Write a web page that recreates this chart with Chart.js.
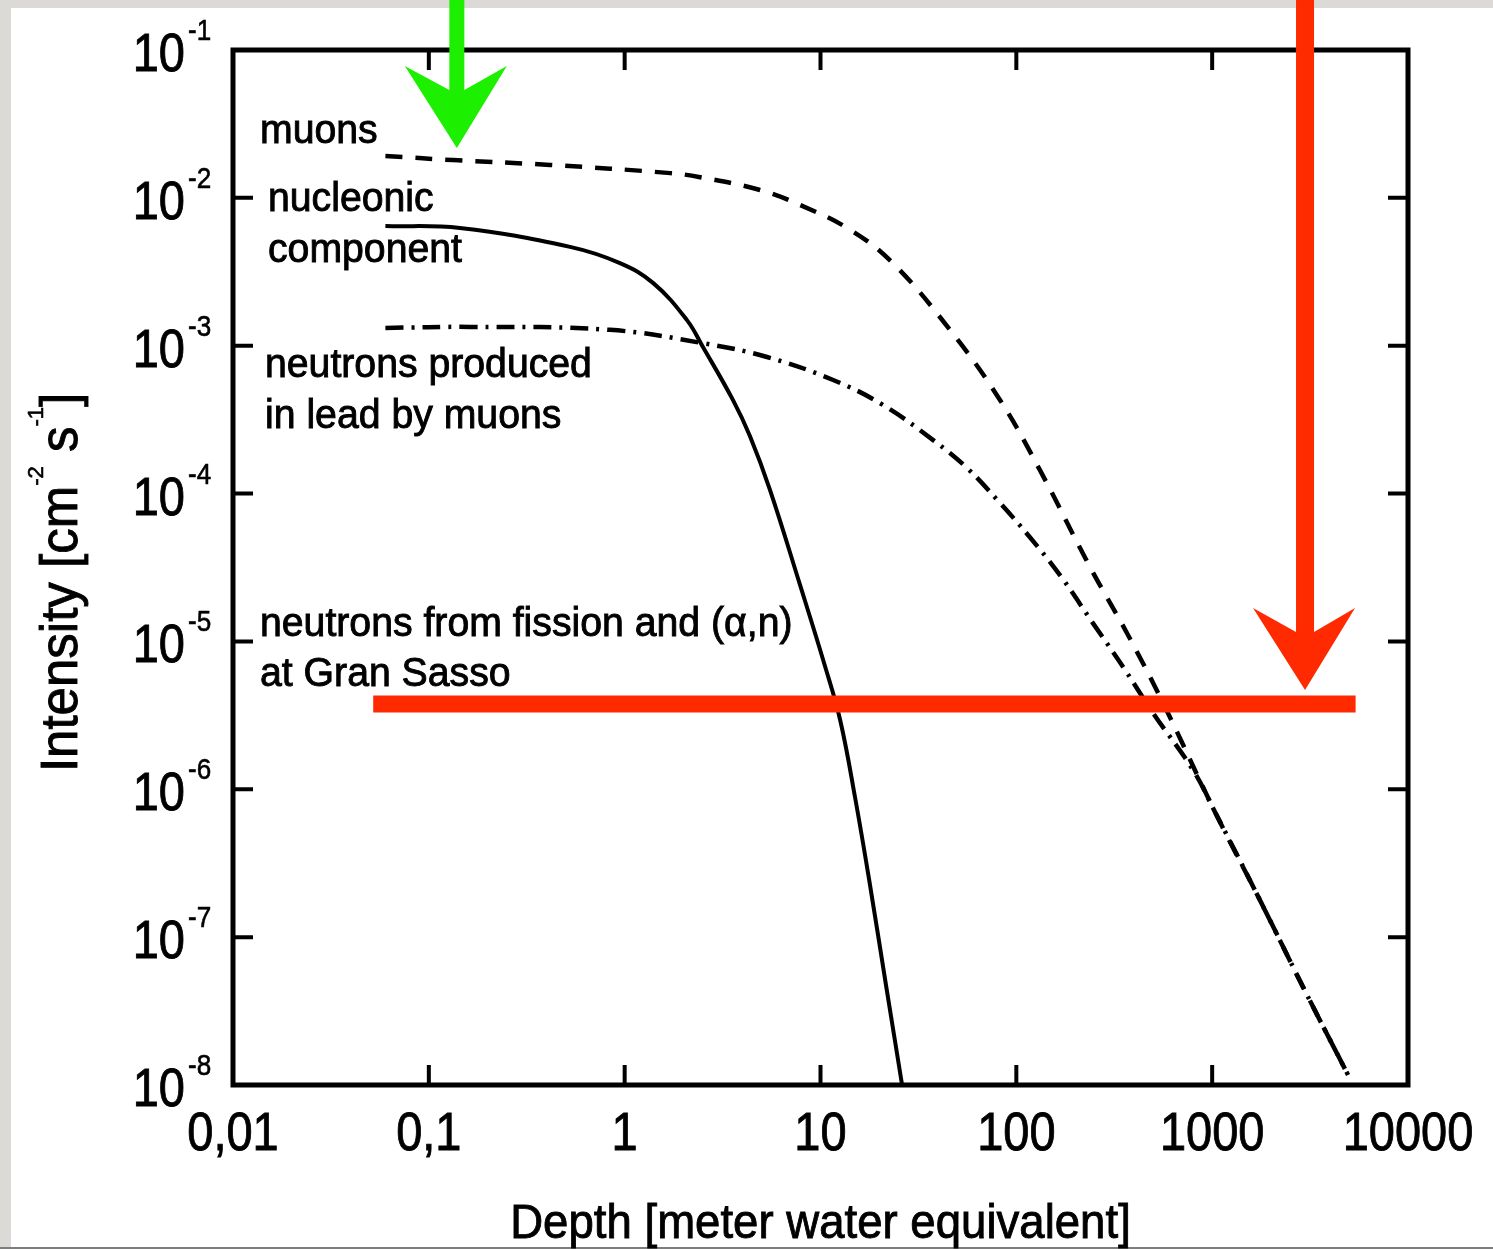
<!DOCTYPE html>
<html>
<head>
<meta charset="utf-8">
<script src="https://cdn.jsdelivr.net/npm/chart.js@4.4.1/dist/chart.umd.min.js"></script>
<style>
  html, body { margin: 0; padding: 0; background: #dcdad6; overflow: hidden; }
  #grafico { display: block; }
</style>
</head>
<body>
<canvas id="grafico" width="1493" height="1249"></canvas>
<script>
let grafico = null;

// DADOS (profundidade em m.w.e., intensidade em cm-2 s-1)
const depthMuons = [0.06, 0.133, 0.416, 1.71, 2.43, 4.91, 7.86, 14.2, 23.4, 45.8, 82.5, 132, 238, 367, 561, 1035, 1754, 2910, 4940];
const muons = [1.92e-2, 1.80e-2, 1.67e-2, 1.47e-2, 1.38e-2, 1.13e-2, 8.95e-3, 6.07e-3, 3.62e-3, 1.28e-3, 4.30e-4, 1.44e-4, 3.18e-5, 1.14e-5, 3.84e-6, 7.0e-7, 1.78e-7, 4.60e-8, 1.17e-8];

const depthNucleonic = [0.06, 0.144, 0.526, 0.946, 1.40, 2.08, 2.51, 3.57, 4.36, 5.52, 7.86, 10.5, 12.6, 15.0, 17.9, 21.6, 26.1];
const nucleonic = [6.45e-3, 6.25e-3, 4.66e-3, 3.62e-3, 2.65e-3, 1.49e-3, 9.8e-4, 4.3e-4, 2.45e-4, 1.06e-4, 2.41e-5, 6.93e-6, 2.94e-6, 8.87e-7, 2.25e-7, 4.74e-8, 1.0e-8];

const depthLead = [0.06, 0.162, 0.841, 2.51, 5.33, 11.6, 20.9, 37.6, 56.0, 82.6, 117, 167, 246, 351, 499, 798, 1035, 1754, 2910, 4940];
const leadNeutrons = [1.32e-3, 1.34e-3, 1.28e-3, 1.04e-3, 8.39e-4, 5.86e-4, 3.97e-4, 2.30e-4, 1.49e-4, 8.63e-5, 5.08e-5, 2.81e-5, 1.33e-5, 6.72e-6, 3.28e-6, 1.35e-6, 7.0e-7, 1.78e-7, 4.60e-8, 1.17e-8];

const depthFission = [0.06, 4940];
const fission = [3.77e-6, 3.77e-6];

// marcas a mao (vermelho / verde)
const depthHighlight = [0.052, 5400];
const highlight = [3.77e-6, 3.77e-6];
const arrowDepth = [0.139, 2980];
const arrowTip = [0.0217, 4.7e-6];

// EIXOS
const xTicks = [0.01, 0.1, 1, 10, 100, 1000, 10000];
const xTickLabels = ['0,01', '0,1', '1', '10', '100', '1000', '10000'];
const yTicks = [1e-1, 1e-2, 1e-3, 1e-4, 1e-5, 1e-6, 1e-7, 1e-8];
const yTickExp = ['-1', '-2', '-3', '-4', '-5', '-6', '-7', '-8'];

const FONTE = '"Liberation Sans", Arial, sans-serif';
const VERMELHO = '#ff2a00';
const VERDE = '#1cf000';

function pontos(xs, ys) {
    return xs.map((x, i) => ({ x: x, y: ys[i] }));
}

function texto(ctx, str, x, y, size, sx, align) {
    ctx.save();
    ctx.font = size + 'px ' + FONTE;
    let w = ctx.measureText(str).width * sx;
    let x0 = x;
    if (align === 'center') x0 = x - w / 2;
    if (align === 'right') x0 = x - w;
    ctx.translate(x0, y);
    ctx.scale(sx, 1);
    ctx.textAlign = 'left';
    ctx.textBaseline = 'alphabetic';
    ctx.fillStyle = '#000';
    ctx.strokeStyle = '#000';
    ctx.lineWidth = size > 35 ? 0.9 : 0.6;
    ctx.fillText(str, 0, 0);
    ctx.strokeText(str, 0, 0);
    ctx.restore();
    return w;
}

function largura(ctx, str, size) {
    ctx.save();
    ctx.font = size + 'px ' + FONTE;
    let w = ctx.measureText(str).width;
    ctx.restore();
    return w;
}

function seta(ctx, px, py, meia, cor) {
    ctx.save();
    ctx.fillStyle = cor;
    ctx.beginPath();
    ctx.moveTo(px, py);
    ctx.lineTo(px + 50, py - 82);
    ctx.lineTo(px + meia, py - 58);
    ctx.lineTo(px + meia, 0);
    ctx.lineTo(px - meia, 0);
    ctx.lineTo(px - meia, py - 58);
    ctx.lineTo(px - 52, py - 82);
    ctx.closePath();
    ctx.fill();
    ctx.restore();
}

// fundo cinza + folha branca
const fundo = {
    id: 'fundo',
    beforeDraw(chart) {
        const ctx = chart.ctx;
        ctx.save();
        ctx.fillStyle = '#dcdad6';
        ctx.fillRect(0, 0, chart.width, chart.height);
        ctx.fillStyle = '#ffffff';
        ctx.fillRect(11, 8, chart.width - 11, chart.height - 10);
        ctx.fillStyle = '#7d7d7d';
        ctx.fillRect(0, chart.height - 2, chart.width, 2);
        ctx.restore();
    }
};

// moldura, ticks internos, rotulos, textos e setas
const moldura = {
    id: 'moldura',
    afterDatasetsDraw(chart) {
        const ctx = chart.ctx;
        const a = chart.chartArea;
        const sx = chart.scales.x;
        const sy = chart.scales.y;

        ctx.save();
        ctx.strokeStyle = '#000';
        ctx.lineWidth = 4;
        ctx.beginPath();
        xTicks.forEach((v, i) => {
            if (i === 0 || i === xTicks.length - 1) return;
            let px = sx.getPixelForValue(v);
            ctx.moveTo(px, a.bottom); ctx.lineTo(px, a.bottom - 20);
            ctx.moveTo(px, a.top); ctx.lineTo(px, a.top + 20);
        });
        yTicks.forEach((v, i) => {
            if (i === 0 || i === yTicks.length - 1) return;
            let py = sy.getPixelForValue(v);
            ctx.moveTo(a.left, py); ctx.lineTo(a.left + 20, py);
            ctx.moveTo(a.right, py); ctx.lineTo(a.right - 20, py);
        });
        ctx.stroke();
        ctx.lineWidth = 5;
        ctx.lineJoin = 'miter';
        ctx.strokeRect(a.left, a.top, a.right - a.left, a.bottom - a.top);
        ctx.restore();

        // rotulos eixo x
        xTicks.forEach((v, i) => {
            texto(ctx, xTickLabels[i], sx.getPixelForValue(v), a.bottom + 65, 54, 0.87, 'center');
        });
        // rotulos eixo y (10^n)
        yTicks.forEach((v, i) => {
            let py = sy.getPixelForValue(v);
            texto(ctx, '10', a.left - 48, py + 21, 54, 0.87, 'right');
            texto(ctx, yTickExp[i], a.left - 45, py - 10, 30, 0.87, 'left');
        });

        // titulo x
        texto(ctx, 'Depth [meter water equivalent]', (a.left + a.right) / 2, a.bottom + 153, 49, 0.93, 'center');

        // titulo y (rotacionado, com expoentes)
        ctx.save();
        let partes = [
            { t: 'Intensity [cm', s: 51, up: 0 },
            { t: '-2', s: 22, up: 34 },
            { t: ' s', s: 51, up: 0 },
            { t: '-1', s: 22, up: 34 },
            { t: ']', s: 51, up: 0 }
        ];
        let total = 0;
        partes.forEach(p => { total += largura(ctx, p.t, p.s); });
        let cy = (a.top + a.bottom) / 2 + 15;
        ctx.translate(a.left - 156, cy + total / 2);
        ctx.rotate(-Math.PI / 2);
        let pos = 0;
        partes.forEach(p => {
            pos += texto(ctx, p.t, pos, -p.up, p.s, 1, 'left');
        });
        ctx.restore();

        // legendas dentro do grafico
        const rotulos = [
            ['muons', 27, 93],
            ['nucleonic', 35, 161],
            ['component', 35, 212],
            ['neutrons produced', 32, 327],
            ['in lead by muons', 32, 378],
            ['neutrons from fission and (\u03b1,n)', 27, 586],
            ['at Gran Sasso', 27, 636]
        ];
        rotulos.forEach(r => texto(ctx, r[0], a.left + r[1], a.top + r[2], 40, 0.98, 'left'));

        // setas
        seta(ctx, sx.getPixelForValue(arrowDepth[0]), sy.getPixelForValue(arrowTip[0]), 7.5, VERDE);
        seta(ctx, sx.getPixelForValue(arrowDepth[1]), sy.getPixelForValue(arrowTip[1]), 9, VERMELHO);
    }
};

const ctx = document.getElementById('grafico').getContext('2d');

grafico = new Chart(ctx, {
    type: 'line',
    data: {
        datasets: [
            {
                label: 'highlight',
                data: pontos(depthHighlight, highlight),
                borderColor: VERMELHO,
                borderWidth: 17,
                order: 0
            },
            {
                label: 'muons',
                data: pontos(depthMuons, muons),
                borderColor: '#000',
                borderWidth: 4.5,
                borderDash: [17, 13],
                tension: 0.4,
                order: 1
            },
            {
                label: 'nucleonic component',
                data: pontos(depthNucleonic, nucleonic),
                borderColor: '#000',
                borderWidth: 4,
                tension: 0.4,
                order: 2
            },
            {
                label: 'neutrons produced in lead by muons',
                data: pontos(depthLead, leadNeutrons),
                borderColor: '#000',
                borderWidth: 4.5,
                borderDash: [18, 8, 3, 8],
                tension: 0.4,
                order: 3
            },
            {
                label: 'neutrons from fission and (a,n) at Gran Sasso',
                data: pontos(depthFission, fission),
                borderColor: '#000',
                borderWidth: 3,
                borderDash: [10, 6],
                order: 4
            }
        ]
    },
    options: {
        responsive: false,
        animation: false,
        devicePixelRatio: 1,
        layout: { padding: { left: 233, top: 50, right: 85, bottom: 164 } },
        elements: { point: { radius: 0 } },
        plugins: {
            legend: { display: false },
            tooltip: { enabled: false }
        },
        scales: {
            x: { type: 'logarithmic', min: 0.01, max: 10000, display: false },
            y: { type: 'logarithmic', min: 1e-8, max: 1e-1, display: false }
        }
    },
    plugins: [fundo, moldura]
});
</script>
</body>
</html>
